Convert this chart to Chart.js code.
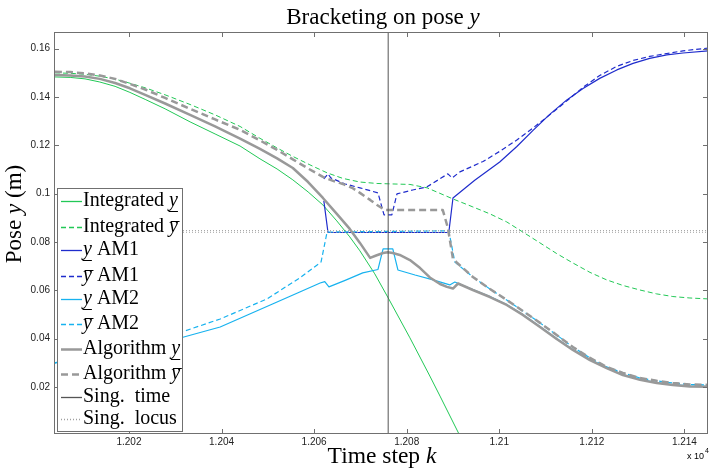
<!DOCTYPE html>
<html>
<head>
<meta charset="utf-8">
<title>Bracketing on pose y</title>
<script src="https://cdn.jsdelivr.net/npm/chart.js@4.4.1/dist/chart.umd.min.js"></script>
<style>
  html, body { margin: 0; padding: 0; background: #fff; }
  #wrap { width: 709px; height: 468px; }
</style>
</head>
<body>
<div id="wrap"><canvas id="chart" width="709" height="468"></canvas></div>
<script>
// axis ticks
const xTicks = [12020, 12040, 12060, 12080, 12100, 12120, 12140];
const xTickLabels = ['1.202', '1.204', '1.206', '1.208', '1.21', '1.212', '1.214'];
const yTicks = [0.02, 0.04, 0.06, 0.08, 0.1, 0.12, 0.14, 0.16];
const yTickLabels = ['0.02', '0.04', '0.06', '0.08', '0.1', '0.12', '0.14', '0.16'];

// Integrated lower bound
const intLowK = [12004.0, 12007.3, 12010.5, 12013.7, 12017.0, 12020.2, 12023.5, 12027.8, 12033.2, 12038.6, 12044.0, 12048.3, 12052.0, 12055.4, 12058.7, 12061.9, 12064.9, 12067.7, 12069.9, 12073.1, 12075.9, 12080.7, 12085.0, 12087.2, 12091.3, 12092.6];
const intLowY = [0.1483, 0.1481, 0.1475, 0.1462, 0.1444, 0.1419, 0.1390, 0.1351, 0.1297, 0.1247, 0.1197, 0.1144, 0.1102, 0.1057, 0.1007, 0.0953, 0.0887, 0.0821, 0.0763, 0.0668, 0.0572, 0.0403, 0.0245, 0.0162, 0.0005, -0.0045];

// Integrated upper bound
const intUpK = [12004.0, 12007.3, 12010.5, 12013.7, 12017.0, 12020.2, 12023.5, 12027.8, 12033.2, 12038.6, 12044.0, 12048.3, 12052.0, 12055.4, 12059.1, 12062.8, 12066.2, 12069.9, 12073.6, 12077.0, 12080.7, 12084.4, 12087.2, 12090.0, 12094.3, 12098.0, 12101.6, 12105.1, 12108.8, 12112.4, 12115.9, 12119.6, 12123.2, 12126.7, 12130.4, 12134.0, 12137.5, 12141.2, 12145.3];
const intUpY = [0.1500, 0.1498, 0.1494, 0.1486, 0.1474, 0.1457, 0.1438, 0.1409, 0.1369, 0.1326, 0.1278, 0.1229, 0.1189, 0.1154, 0.1119, 0.1086, 0.1063, 0.1048, 0.1042, 0.1040, 0.1038, 0.1024, 0.1001, 0.0978, 0.0945, 0.0916, 0.0883, 0.0841, 0.0796, 0.0752, 0.0713, 0.0674, 0.0643, 0.0620, 0.0601, 0.0585, 0.0574, 0.0568, 0.0564];

// AM1 lower bound
const am1LowK = [12062.1, 12063.0, 12089.1, 12090.0, 12094.7, 12100.1, 12103.8, 12107.3, 12110.9, 12114.6, 12118.1, 12121.7, 12125.4, 12128.9, 12132.5, 12136.2, 12139.7, 12145.3];
const am1LowY = [0.0970, 0.0839, 0.0839, 0.0982, 0.1055, 0.1131, 0.1195, 0.1262, 0.1328, 0.1388, 0.1435, 0.1477, 0.1512, 0.1539, 0.1560, 0.1574, 0.1582, 0.1591];

// AM1 upper bound
const am1UpK = [12062.1, 12063.0, 12063.6, 12066.7, 12069.9, 12073.8, 12075.1, 12076.8, 12077.9, 12081.3, 12084.4, 12088.9, 12089.8, 12091.5, 12096.5, 12100.1, 12103.8, 12107.3, 12110.9, 12114.6, 12118.1, 12121.7, 12125.4, 12128.9, 12132.5, 12136.2, 12139.7, 12145.3];
const am1UpY = [0.1061, 0.1082, 0.1065, 0.1040, 0.1024, 0.1003, 0.0912, 0.0912, 0.0999, 0.1015, 0.1028, 0.1082, 0.1065, 0.1090, 0.1133, 0.1175, 0.1222, 0.1272, 0.1326, 0.1384, 0.1440, 0.1489, 0.1527, 0.1551, 0.1568, 0.1580, 0.1591, 0.1603];

// AM2 lower bound
const am2LowK = [12003.8, 12015.9, 12029.5, 12039.7, 12051.5, 12056.9, 12061.3, 12062.3, 12063.2, 12066.7, 12070.5, 12073.8, 12074.9, 12077.0, 12078.1, 12081.8, 12085.7, 12089.3, 12090.4, 12094.3, 12098.0, 12101.6, 12105.1, 12108.8, 12112.4, 12115.9, 12119.6, 12123.2, 12126.7, 12130.4, 12134.0, 12137.5, 12141.2, 12145.3];
const am2LowY = [0.0299, 0.0345, 0.0394, 0.0448, 0.0547, 0.0593, 0.0630, 0.0636, 0.0614, 0.0641, 0.0672, 0.0686, 0.0771, 0.0771, 0.0684, 0.0663, 0.0643, 0.0622, 0.0634, 0.0603, 0.0574, 0.0541, 0.0500, 0.0450, 0.0400, 0.0355, 0.0314, 0.0280, 0.0251, 0.0231, 0.0218, 0.0210, 0.0204, 0.0202];

// AM2 upper bound
const am2UpK = [12003.8, 12015.9, 12029.5, 12039.7, 12049.8, 12056.9, 12061.5, 12062.8, 12089.1, 12090.4, 12094.3, 12098.0, 12101.6, 12105.1, 12108.8, 12112.4, 12115.9, 12119.6, 12123.2, 12126.7, 12130.4, 12134.0, 12137.5, 12141.2, 12145.3];
const am2UpY = [0.0297, 0.0357, 0.0415, 0.0481, 0.0564, 0.0651, 0.0717, 0.0841, 0.0846, 0.0717, 0.0655, 0.0605, 0.0560, 0.0514, 0.0465, 0.0415, 0.0365, 0.0320, 0.0283, 0.0258, 0.0237, 0.0225, 0.0216, 0.0210, 0.0208];

// Algorithm lower bound
const algLowK = [12004.0, 12007.3, 12010.5, 12013.7, 12017.0, 12020.2, 12023.5, 12027.8, 12033.2, 12038.6, 12044.0, 12048.3, 12052.0, 12055.4, 12058.7, 12061.9, 12064.9, 12067.7, 12069.9, 12072.1, 12073.4, 12074.9, 12075.9, 12077.0, 12078.5, 12080.7, 12082.9, 12085.0, 12087.2, 12088.7, 12090.0, 12091.1, 12094.3, 12098.0, 12101.6, 12105.1, 12108.8, 12112.4, 12115.9, 12119.6, 12123.2, 12126.7, 12130.4, 12134.0, 12137.5, 12141.2, 12145.3];
const algLowY = [0.1491, 0.1489, 0.1485, 0.1475, 0.1458, 0.1436, 0.1409, 0.1373, 0.1326, 0.1278, 0.1228, 0.1185, 0.1146, 0.1106, 0.1048, 0.0982, 0.0916, 0.0854, 0.0796, 0.0734, 0.0744, 0.0754, 0.0757, 0.0754, 0.0746, 0.0725, 0.0692, 0.0653, 0.0626, 0.0614, 0.0607, 0.0628, 0.0601, 0.0572, 0.0539, 0.0498, 0.0448, 0.0398, 0.0353, 0.0311, 0.0278, 0.0249, 0.0229, 0.0216, 0.0208, 0.0202, 0.0200];

// Algorithm upper bound
const algUpK = [12004.0, 12007.3, 12010.5, 12013.7, 12017.0, 12020.2, 12023.5, 12027.8, 12033.2, 12038.6, 12044.0, 12048.3, 12052.0, 12055.4, 12058.7, 12061.9, 12064.1, 12066.2, 12068.2, 12069.9, 12072.1, 12073.6, 12074.9, 12075.5, 12087.8, 12088.9, 12090.0, 12090.8, 12094.3, 12098.0, 12101.6, 12105.1, 12108.8, 12112.4, 12115.9, 12119.6, 12123.2, 12126.7, 12130.4, 12134.0, 12137.5, 12141.2, 12145.3];
const algUpY = [0.1504, 0.1503, 0.1498, 0.1489, 0.1475, 0.1454, 0.1431, 0.1396, 0.1351, 0.1307, 0.1264, 0.1220, 0.1181, 0.1142, 0.1104, 0.1069, 0.1053, 0.1040, 0.1024, 0.1003, 0.0974, 0.0953, 0.0937, 0.0932, 0.0932, 0.0858, 0.0730, 0.0715, 0.0655, 0.0605, 0.0560, 0.0514, 0.0465, 0.0415, 0.0365, 0.0320, 0.0283, 0.0258, 0.0237, 0.0225, 0.0216, 0.0210, 0.0208];

// singularity
const singTime = 12076;
const singLocus = [0.0847, 0.0840];

const X_MIN = 12003.8, X_MAX = 12145.1;
const Y_MIN = 0.0005, Y_MAX = 0.1669;

const GREEN = '#22c856';
const BLUE = '#1f2ccc';
const CYAN = '#17b2ef';
const GRAY = '#999999';

// legend text pieces: '' plain, 'i' italic, 'u' underlined y, 'o' overlined y
const legendParts = [
  [['Integrated ', ''], ['y', 'u']],
  [['Integrated ', ''], ['y', 'o']],
  [['y', 'u'], [' AM1', '']],
  [['y', 'o'], [' AM1', '']],
  [['y', 'u'], [' AM2', '']],
  [['y', 'o'], [' AM2', '']],
  [['Algorithm ', ''], ['y', 'u']],
  [['Algorithm ', ''], ['y', 'o']],
  [['Sing.  time', '']],
  [['Sing.  locus', '']]
];

const pts = (ks, ys) => ks.map((k, i) => ({ x: k, y: ys[i] }));

function line(label, data, color, width, dash) {
  return { label, data, borderColor: color, borderWidth: width, borderDash: dash || [], pointRadius: 0, fill: false };
}

const locusData = [
  { x: X_MIN, y: singLocus[0] }, { x: X_MAX, y: singLocus[0] }, { x: X_MAX, y: null },
  { x: X_MIN, y: singLocus[1] }, { x: X_MAX, y: singLocus[1] }
];

const datasets = [
  line('Integrated y lower', pts(intLowK, intLowY), GREEN, 1),
  line('Integrated y upper', pts(intUpK, intUpY), GREEN, 1, [5, 3]),
  line('y lower AM1', pts(am1LowK, am1LowY), BLUE, 1.2),
  line('y upper AM1', pts(am1UpK, am1UpY), BLUE, 1.2, [5, 3]),
  line('y lower AM2', pts(am2LowK, am2LowY), CYAN, 1.2),
  line('y upper AM2', pts(am2UpK, am2UpY), CYAN, 1.2, [5, 3]),
  line('Algorithm y lower', pts(algLowK, algLowY), GRAY, 2.5),
  line('Algorithm y upper', pts(algUpK, algUpY), GRAY, 2.5, [7, 4]),
  line('Sing. time', [{ x: singTime, y: Y_MIN }, { x: singTime, y: Y_MAX }], '#555555', 1),
  line('Sing. locus', locusData, '#a0a0a0', 1, [1, 2])
];
datasets.forEach((d, i) => { d.order = datasets.length - i; d.spanGaps = false; });

const SERIF = '"Liberation Serif", "Times New Roman", serif';

function partFont(style, size) {
  return (style ? 'italic ' : '') + size + 'px ' + SERIF;
}

function richWidth(ctx, parts, size) {
  let w = 0;
  parts.forEach(([t, s]) => { ctx.font = partFont(s, size); w += ctx.measureText(t).width; });
  return w;
}

function drawRich(ctx, parts, x, y, size) {
  ctx.textAlign = 'left';
  ctx.textBaseline = 'alphabetic';
  parts.forEach(([t, s]) => {
    ctx.font = partFont(s, size);
    const w = ctx.measureText(t).width;
    ctx.fillText(t, x, y);
    if (s === 'u') ctx.fillRect(x - 0.5, Math.round(y + size * 0.27), w + 0.5, 1);
    if (s === 'o') ctx.fillRect(x + size * 0.08, Math.round(y - size * 0.55), w, 1);
    x += w;
  });
}

const decorations = {
  id: 'decorations',
  afterDatasetsDraw(chart) {
    const { ctx, chartArea: a, scales: { x, y } } = chart;
    ctx.save();
    ctx.strokeStyle = '#707070';
    ctx.lineWidth = 1;
    ctx.strokeRect(a.left + 0.5, a.top + 0.5, a.right - a.left - 1, a.bottom - a.top - 1);
    ctx.beginPath();
    xTicks.forEach(v => {
      const px = Math.round(x.getPixelForValue(v)) + 0.5;
      ctx.moveTo(px, a.bottom); ctx.lineTo(px, a.bottom - 5);
      ctx.moveTo(px, a.top); ctx.lineTo(px, a.top + 5);
    });
    yTicks.forEach(v => {
      const py = Math.round(y.getPixelForValue(v)) + 0.5;
      ctx.moveTo(a.left, py); ctx.lineTo(a.left + 5, py);
      ctx.moveTo(a.right, py); ctx.lineTo(a.right - 5, py);
    });
    ctx.stroke();
    ctx.restore();
  },
  afterDraw(chart) {
    const { ctx, chartArea: a } = chart;
    ctx.save();
    ctx.fillStyle = '#000';

    // title
    const tParts = [['Bracketing on pose ', ''], ['y', 'i']];
    drawRich(ctx, tParts, (a.left + a.right) / 2 + 2 - richWidth(ctx, tParts, 23) / 2, 24, 23);

    // x axis title
    const xParts = [['Time step ', ''], ['k', 'i']];
    drawRich(ctx, xParts, 382 - richWidth(ctx, xParts, 23.5) / 2, 463, 23.5);

    // y axis title
    const yParts = [['Pose ', ''], ['y', 'i'], [' (m)', '']];
    ctx.save();
    ctx.translate(21, 214);
    ctx.rotate(-Math.PI / 2);
    drawRich(ctx, yParts, -richWidth(ctx, yParts, 23) / 2, 0, 23);
    ctx.restore();

    // x 10^4 multiplier
    ctx.font = '9px "Liberation Sans", Arial, sans-serif';
    ctx.textAlign = 'left';
    ctx.fillText('x 10', 687, 459);
    ctx.font = '7px "Liberation Sans", Arial, sans-serif';
    ctx.fillText('4', 705, 453);

    // legend
    const L = { x0: 57.5, y0: 188.5, x1: 182.5, y1: 431.5 };
    ctx.fillStyle = '#fff';
    ctx.fillRect(L.x0, L.y0, L.x1 - L.x0, L.y1 - L.y0);
    ctx.strokeStyle = '#707070';
    ctx.lineWidth = 1;
    ctx.strokeRect(L.x0, L.y0, L.x1 - L.x0, L.y1 - L.y0);
    const baselines = [206, 231.5, 255, 280.5, 304, 329, 353.5, 379, 402, 424];
    chart.data.datasets.forEach((ds, i) => {
      const by = baselines[i];
      const ly = Math.round(by - 5) + 0.5;
      ctx.strokeStyle = ds.borderColor;
      ctx.lineWidth = Math.max(ds.borderWidth, 1.3);
      ctx.setLineDash(ds.borderDash);
      ctx.beginPath();
      ctx.moveTo(61, ly);
      ctx.lineTo(82, ly);
      ctx.stroke();
      ctx.setLineDash([]);
      ctx.fillStyle = '#000';
      drawRich(ctx, legendParts[i], 83, by, 20);
    });
    ctx.restore();
  }
};

new Chart(document.getElementById('chart'), {
  type: 'line',
  data: { datasets },
  options: {
    responsive: false,
    animation: false,
    devicePixelRatio: 1,
    layout: { padding: { top: 32, right: 1, left: 0, bottom: 0 } },
    plugins: {
      legend: { display: false },
      tooltip: { enabled: false },
      title: { display: false }
    },
    elements: {
      point: { radius: 0 },
      line: { tension: 0, borderJoinStyle: 'round', borderCapStyle: 'butt' }
    },
    scales: {
      x: {
        type: 'linear',
        min: X_MIN,
        max: X_MAX,
        afterFit: s => { s.height = 34; },
        afterBuildTicks: s => { s.ticks = xTicks.map(v => ({ value: v })); },
        grid: { display: false, drawTicks: false },
        border: { display: false },
        ticks: {
          autoSkip: false,
          maxRotation: 0,
          padding: 2,
          color: '#222',
          font: { family: '"Liberation Sans", Arial, sans-serif', size: 10 },
          callback: (v, i) => xTickLabels[i]
        }
      },
      y: {
        type: 'linear',
        min: Y_MIN,
        max: Y_MAX,
        afterFit: s => { s.width = 54; },
        afterBuildTicks: s => { s.ticks = yTicks.map(v => ({ value: v })); },
        grid: { display: false, drawTicks: false },
        border: { display: false },
        ticks: {
          autoSkip: false,
          padding: 4,
          color: '#222',
          font: { family: '"Liberation Sans", Arial, sans-serif', size: 10 },
          callback: (v, i) => yTickLabels[i]
        }
      }
    }
  },
  plugins: [decorations]
});
</script>
</body>
</html>
